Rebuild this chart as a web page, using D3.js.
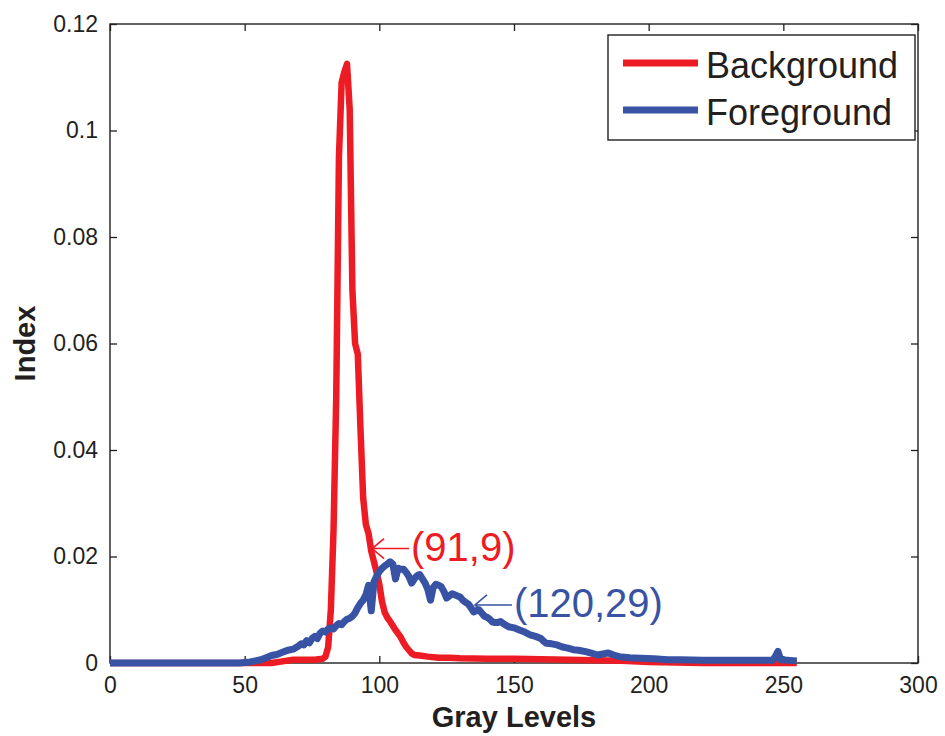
<!DOCTYPE html>
<html>
<head>
<meta charset="utf-8">
<script src="https://cdn.jsdelivr.net/npm/d3@7"></script>
<style>
  body { margin: 0; background: #fff; }
  svg { display: block; }
  text { font-family: "Liberation Sans", Arial, sans-serif; fill: #231F20; }
</style>
</head>
<body>
<svg id="chart" width="945" height="736"></svg>
<script>
// ---- Data ----
const bgLevels = [0, 50, 60, 64, 68, 72, 76, 79, 80, 81, 82, 83, 84, 85, 86, 87, 88, 89, 90, 91, 92, 93, 94, 95, 96, 97, 98, 99, 100, 101, 102, 103, 104, 105, 106, 107, 108, 109, 110, 111, 112, 113, 115, 118, 122, 126, 130, 140, 150, 160, 170, 180, 190, 200, 210, 220, 255];
const bgValues = [0, 0, 0, 0.0003, 0.0006, 0.0006, 0.0006, 0.0008, 0.0012, 0.003, 0.01, 0.025, 0.05, 0.095, 0.109, 0.111, 0.1125, 0.104, 0.07, 0.06, 0.058, 0.044, 0.031, 0.026, 0.0243, 0.021, 0.019, 0.017, 0.0148, 0.0115, 0.0095, 0.0085, 0.0078, 0.007, 0.0062, 0.0055, 0.0048, 0.0038, 0.003, 0.0024, 0.0018, 0.0015, 0.0014, 0.0012, 0.001, 0.001, 0.0009, 0.0008, 0.0008, 0.0007, 0.0006, 0.0005, 0.0004, 0.0002, 0.0001, 0, 0];

const fgLevels = [0, 48, 50, 52, 54, 56, 58, 60, 62, 64, 66, 68, 70, 71, 72, 73, 74, 75, 76, 77, 78, 79, 80, 81, 82, 83, 84, 85, 86, 87, 88, 89, 90, 91, 92, 93, 94, 95,
  96, 97, 98, 99, 100, 101, 102, 103, 104, 105, 106, 107, 108, 109, 110, 111, 112, 113, 114, 115, 116, 117, 118, 119, 120, 121, 122, 123, 124, 125, 126, 127, 128, 129, 130, 131, 132, 133, 134, 135, 136, 137, 138, 139, 140, 141, 142, 143, 144, 145, 146, 147, 148, 150, 152, 154, 156, 158, 160, 161, 162, 164, 166, 168, 170, 172, 174, 177, 179, 181, 183, 185, 187, 189, 193, 197, 202, 207, 212, 220, 230, 240, 246, 247, 248, 249, 255];
const fgValues = [0, 0, 0.0001, 0.0002, 0.0004, 0.0006, 0.001, 0.0014, 0.0016, 0.002, 0.0024, 0.0026, 0.0032, 0.0036, 0.0034, 0.0042, 0.0038, 0.0046, 0.005, 0.0046, 0.0056, 0.006, 0.0058, 0.0064, 0.0066, 0.0064, 0.007, 0.0074, 0.0072, 0.0078, 0.0082, 0.0084, 0.0088, 0.0094, 0.0104, 0.0112, 0.0118, 0.0128,
  0.0146, 0.0098, 0.0152, 0.0163, 0.0172, 0.0178, 0.0182, 0.0186, 0.019, 0.0186, 0.0158, 0.0178, 0.0176, 0.0176, 0.017, 0.0162, 0.015, 0.0158, 0.0164, 0.0166, 0.0158, 0.015, 0.0138, 0.0118, 0.0142, 0.0148, 0.0146, 0.0143, 0.0134, 0.0122, 0.0126, 0.013, 0.0128, 0.0126, 0.0124, 0.0118, 0.0114, 0.0111, 0.0104, 0.0096, 0.0098, 0.01, 0.0094, 0.0088, 0.0086, 0.0082, 0.0077, 0.0076, 0.0076, 0.0078, 0.0074, 0.0071, 0.0068, 0.0066, 0.0062, 0.0058, 0.0053, 0.005, 0.0046, 0.0041, 0.0037, 0.0036, 0.0034, 0.003, 0.0028, 0.0025, 0.0024, 0.0021, 0.0018, 0.0015, 0.0017, 0.0019, 0.0015, 0.0012, 0.001, 0.0009, 0.0008, 0.0006, 0.0006, 0.0005, 0.0005, 0.0005, 0.0005, 0.0012, 0.0022, 0.0006, 0.0004];

const xTicks = [0, 50, 100, 150, 200, 250, 300];
const yTicks = [0, 0.02, 0.04, 0.06, 0.08, 0.1, 0.12];
const yTickLabels = ["0", "0.02", "0.04", "0.06", "0.08", "0.1", "0.12"];
const seriesNames = ["Background", "Foreground"];
const annotations = [
  { level: 97.3, value: 0.0215, label: "(91,9)", series: 0 },
  { level: 135.5, value: 0.0109, label: "(120,29)", series: 1 }
];

// ---- Layout ----
const colors = ["#ED1C24", "#3953A4"];
const svg = d3.select("#chart");
const L = 110, R = 918, T = 24, B = 663;
const x = d3.scaleLinear().domain([0, 300]).range([L, R]);
const y = d3.scaleLinear().domain([0, 0.12]).range([B, T]);

// Box
svg.append("rect").attr("x", L).attr("y", T).attr("width", R - L).attr("height", B - T)
  .attr("fill", "none").attr("stroke", "#231F20").attr("stroke-width", 1.4);

const tickLen = 7;
const xAxisB = d3.axisBottom(x).tickValues(xTicks).tickSize(-tickLen).tickPadding(14).tickFormat(d3.format("d"));
const gxb = svg.append("g").attr("transform", `translate(0,${B})`).call(xAxisB);
const xAxisT = d3.axisTop(x).tickValues(xTicks).tickSize(-tickLen).tickFormat("");
const gxt = svg.append("g").attr("transform", `translate(0,${T})`).call(xAxisT);
const yAxisL = d3.axisLeft(y).tickValues(yTicks).tickSize(-tickLen).tickPadding(12).tickFormat((d, i) => yTickLabels[i]);
const gyl = svg.append("g").attr("transform", `translate(${L},0)`).call(yAxisL);
const yAxisR = d3.axisRight(y).tickValues(yTicks).tickSize(-tickLen).tickFormat("");
const gyr = svg.append("g").attr("transform", `translate(${R},0)`).call(yAxisR);

[gxb, gxt, gyl, gyr].forEach(g => {
  g.select(".domain").remove();
  g.selectAll(".tick line").attr("stroke", "#231F20").attr("stroke-width", 1.3);
  g.selectAll(".tick text").style("font-family", '"Liberation Sans", Arial, sans-serif')
    .style("font-size", "23px").attr("fill", "#231F20");
});

// Axis titles
svg.append("text").attr("x", (L + R) / 2).attr("y", 727).attr("text-anchor", "middle")
  .style("font-size", "29px").style("font-weight", "bold").text("Gray Levels");
svg.append("text").attr("transform", `translate(35,${(T + B) / 2}) rotate(-90)`).attr("text-anchor", "middle")
  .style("font-size", "29px").style("font-weight", "bold").text("Index");

// Lines
const line = d3.line().x(d => x(d[0])).y(d => y(d[1]));
const bgData = bgLevels.map((l, i) => [l, bgValues[i]]);
const fgData = fgLevels.map((l, i) => [l, fgValues[i]]);
[bgData, fgData].forEach((data, i) => {
  svg.append("path").datum(data).attr("d", line).attr("fill", "none")
    .attr("stroke", colors[i]).attr("stroke-width", i === 0 ? 6.5 : 7)
    .attr("stroke-linejoin", "round").attr("stroke-linecap", "butt");
});

// Annotations
annotations.forEach(a => {
  const ax = x(a.level), ay = y(a.value);
  const c = colors[a.series];
  svg.append("path")
    .attr("d", `M${ax + 37},${ay} L${ax},${ay} M${ax + 12},${ay - 10} L${ax},${ay} L${ax + 12},${ay + 10}`)
    .attr("fill", "none").attr("stroke", c).attr("stroke-width", 1.6);
  svg.append("text").attr("x", ax + 39).attr("y", ay + 12)
    .style("font-size", "40px").style("fill", c).text(a.label);
});

// Legend
const lg = svg.append("g");
lg.append("rect").attr("x", 608).attr("y", 35).attr("width", 307).attr("height", 105)
  .attr("fill", "#fff").attr("stroke", "#231F20").attr("stroke-width", 1.4);
seriesNames.forEach((name, i) => {
  const ly = 63 + i * 47;
  lg.append("line").attr("x1", 623).attr("x2", 698).attr("y1", ly).attr("y2", ly)
    .attr("stroke", colors[i]).attr("stroke-width", 7);
  lg.append("text").attr("x", 706).attr("y", ly + 15).style("font-size", "36px").text(name);
});
</script>
</body>
</html>
